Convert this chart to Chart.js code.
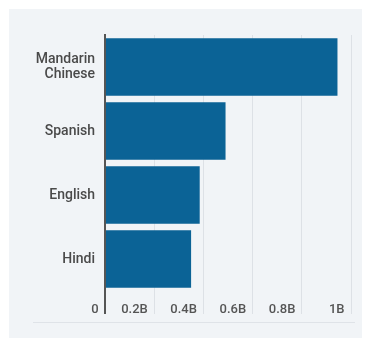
<!DOCTYPE html>
<html>
<head>
<meta charset="utf-8">
<script src="https://cdn.jsdelivr.net/npm/chart.js@4"></script>
<style>
  html, body { margin: 0; padding: 0; background: #ffffff; }
  #wrap { position: relative; width: 369px; height: 338px; overflow: hidden; }
  #panel { position: absolute; left: 9px; top: 9px; width: 353px; height: 329px; background: #f1f4f7; }
  #rule { position: absolute; left: 33px; top: 322px; width: 322px; height: 0; border-top: 1px solid #dfe3e8; }
  #chart_canvas { position: absolute; left: 0; top: 0; }
</style>
</head>
<body>
<div id="wrap">
  <div id="panel"></div>
  <div id="rule"></div>
  <canvas id="chart_canvas" width="369" height="338"></canvas>
</div>
<script>
// speakers, in billions
const languages = ["Mandarin Chinese", "Spanish", "English", "Hindi"];
const speakers = [0.945, 0.49, 0.385, 0.35];
const tick_values = [0, 0.2, 0.4, 0.6, 0.8, 1];
const tick_labels = ["0", "0.2B", "0.4B", "0.6B", "0.8B", "1B"];

const axis_dark = "#555555";
const grid_light = "#dde1e6";

function tickText(value){
    for(let i in tick_values){
        if(Math.abs(tick_values[i] - value) < 1e-9){
            return tick_labels[i] + "  ";
        }
    }
    return "";
}

new Chart(document.getElementById("chart_canvas").getContext("2d"), {
    type: "bar",
    data: {
        labels: languages,
        datasets: [{
            label: "Speakers",
            data: speakers,
            backgroundColor: "#0b6396",
            borderWidth: 0,
            barPercentage: 0.9,
            categoryPercentage: 1.0
        }]
    },
    options: {
        indexAxis: "y",
        responsive: false,
        animation: false,
        layout: { padding: { left: 0, top: 35, right: 18, bottom: 0 } },
        plugins: { legend: { display: false }, tooltip: { enabled: false } },
        scales: {
            x: {
                min: 0,
                max: 1,
                afterBuildTicks: function(scale){
                    scale.ticks = tick_values.map(function(v){ return { value: v }; });
                },
                afterFit: function(scale){ scale.height = 47; },
                border: { display: false },
                grid: {
                    drawTicks: true,
                    tickLength: 23,
                    color: function(ctx){ return ctx.tick && ctx.tick.value === 0 ? axis_dark : grid_light; },
                    tickColor: function(ctx){ return ctx.tick && ctx.tick.value === 0 ? axis_dark : grid_light; },
                    lineWidth: function(ctx){ return ctx.tick && ctx.tick.value === 0 ? 2 : 1; }
                },
                ticks: {
                    align: "end",
                    padding: -12,
                    color: axis_dark,
                    font: { family: "Roboto", size: 13, weight: "500" },
                    callback: function(value){ return tickText(value); }
                }
            },
            y: {
                afterFit: function(scale){ scale.width = 105; },
                border: { display: true, color: axis_dark, width: 2 },
                grid: { display: false, drawTicks: false },
                ticks: {
                    padding: 10,
                    color: "#4a4a4a",
                    font: { family: "Roboto", size: 14, weight: "500", lineHeight: 1.05 },
                    callback: function(value){
                        const name = this.getLabelForValue(value);
                        return name.length > 10 ? name.split(" ") : name;
                    }
                }
            }
        }
    }
});
</script>
</body>
</html>
